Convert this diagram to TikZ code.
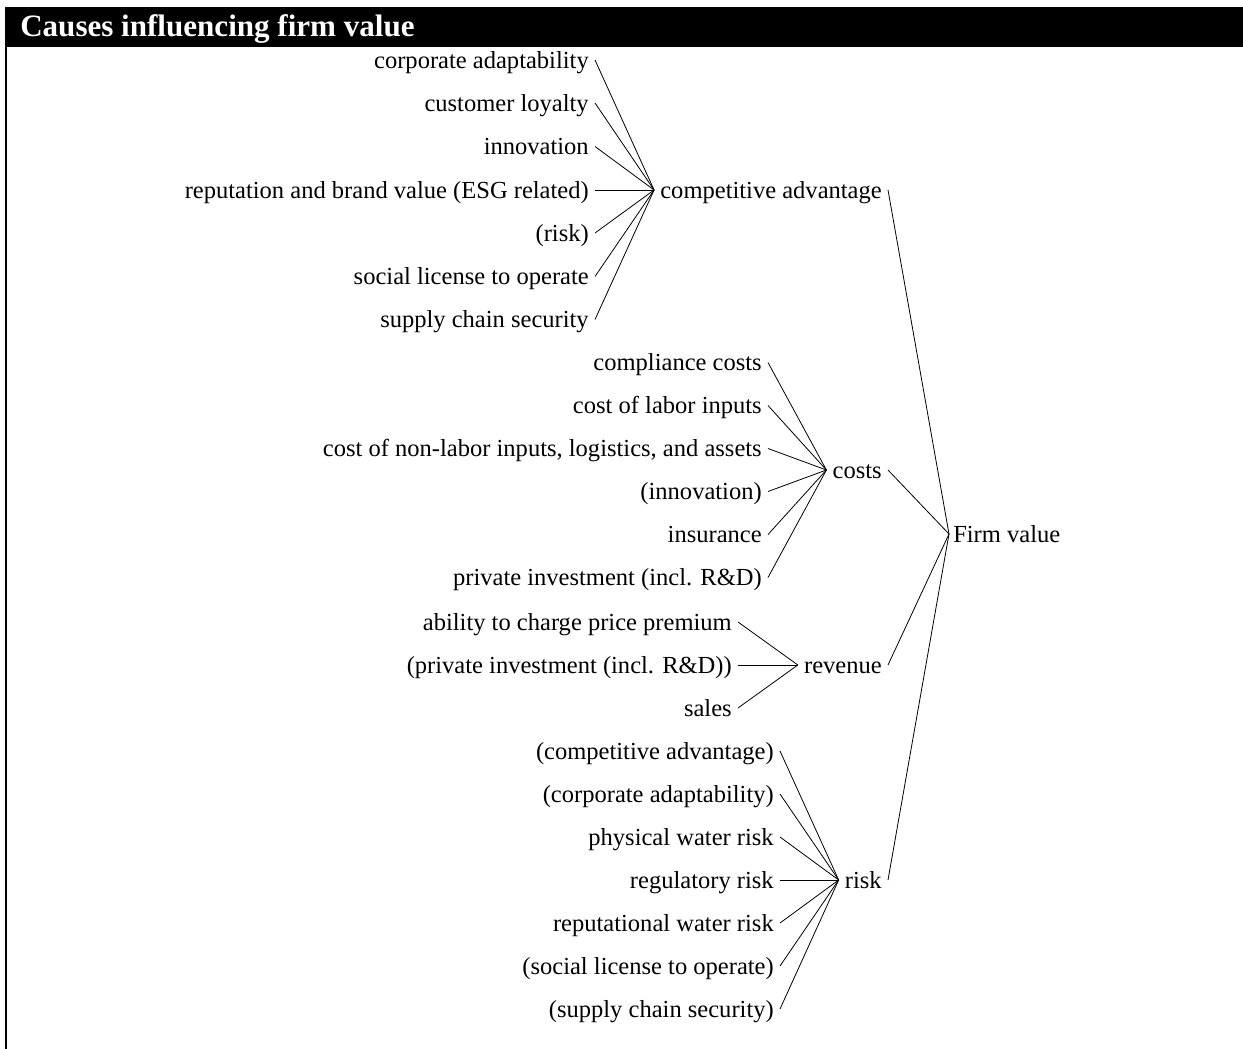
\documentclass[tikz,border=0pt]{standalone}
\usepackage{fontspec}
\setmainfont{Liberation Serif}
\usetikzlibrary{positioning}
\tikzset{cause/.style={anchor=east,inner xsep=4.5pt,inner ysep=0pt,text height=1.35em,text depth=0.1em,font=\fontsize{18.4}{22}\selectfont},
  effect/.style={cause},
  outcome/.style={cause,anchor=west,inner xsep=3pt},
  link/.style={line width=0.6pt}
}

\begin{document}
\begin{tikzpicture}[x=0.75pt,y=-0.75pt]
  \useasboundingbox (0,0) rectangle (1243,1049);

  % Title bar and frame
    \fill[black] (5,7) rectangle (1243,47);
    \node[anchor=base west,inner sep=0pt,text=white,font=\fontsize{23.3}{28}\selectfont\bfseries] (title) at (20,37) {Causes influencing firm value};
    \draw[line width=1.5pt] (6,47) -- (6,1049);

  % Outcome
    \node[outcome] (fv) at (949,534) {Firm value};

  % Competitive advantage
    \node[effect] (adv) at (888,190) {competitive advantage};
    \node[cause] (ca1) at (595,60) {corporate adaptability};
    \node[cause] (ca2) at (595,103) {customer loyalty};
    \node[cause] (ca3) at (595,146.5) {innovation};
    \node[cause] (ca4) at (595,190) {reputation and brand value (ESG related)};
    \node[cause] (ca5) at (595,233) {(risk)};
    \node[cause] (ca6) at (595,276.5) {social license to operate};
    \node[cause] (ca7) at (595,319.5) {supply chain security};

  % Costs
    \node[effect] (costs) at (888,470) {costs};
    \node[cause] (co1) at (768,362.5) {compliance costs};
    \node[cause] (co2) at (768,405.5) {cost of labor inputs};
    \node[cause] (co3) at (768,448.5) {cost of non-labor inputs, logistics, and assets};
    \node[cause] (co4) at (768,491.5) {(innovation)};
    \node[cause] (co5) at (768,534.5) {insurance};
    \node[cause] (co6) at (768,577.5) {private investment (incl. R\&D)};

  % Revenue
    \node[effect] (rev) at (888,665) {revenue};
    \node[cause] (re1) at (738,622) {ability to charge price premium};
    \node[cause] (re2) at (738,665) {(private investment (incl. R\&D))};
    \node[cause] (re3) at (738,708) {sales};

  % Risk
    \node[effect] (risk) at (888,880) {risk};
    \node[cause] (ri1) at (780,751) {(competitive advantage)};
    \node[cause] (ri2) at (780,794) {(corporate adaptability)};
    \node[cause] (ri3) at (780,837) {physical water risk};
    \node[cause] (ri4) at (780,880) {regulatory risk};
    \node[cause] (ri5) at (780,923) {reputational water risk};
    \node[cause] (ri6) at (780,966) {(social license to operate)};
    \node[cause] (ri7) at (780,1009) {(supply chain security)};

  % Causes to effects
    \draw[link] (ca1.east) -- (adv.west);
    \draw[link] (ca2.east) -- (adv.west);
    \draw[link] (ca3.east) -- (adv.west);
    \draw[link] (ca4.east) -- (adv.west);
    \draw[link] (ca5.east) -- (adv.west);
    \draw[link] (ca6.east) -- (adv.west);
    \draw[link] (ca7.east) -- (adv.west);

    \draw[link] (co1.east) -- (costs.west);
    \draw[link] (co2.east) -- (costs.west);
    \draw[link] (co3.east) -- (costs.west);
    \draw[link] (co4.east) -- (costs.west);
    \draw[link] (co5.east) -- (costs.west);
    \draw[link] (co6.east) -- (costs.west);

    \draw[link] (re1.east) -- (rev.west);
    \draw[link] (re2.east) -- (rev.west);
    \draw[link] (re3.east) -- (rev.west);

    \draw[link] (ri1.east) -- (risk.west);
    \draw[link] (ri2.east) -- (risk.west);
    \draw[link] (ri3.east) -- (risk.west);
    \draw[link] (ri4.east) -- (risk.west);
    \draw[link] (ri5.east) -- (risk.west);
    \draw[link] (ri6.east) -- (risk.west);
    \draw[link] (ri7.east) -- (risk.west);

  % Effects to firm value
    \draw[link] (adv.east) -- (fv.west);
    \draw[link] (costs.east) -- (fv.west);
    \draw[link] (rev.east) -- (fv.west);
    \draw[link] (risk.east) -- (fv.west);

\end{tikzpicture}
\end{document}
